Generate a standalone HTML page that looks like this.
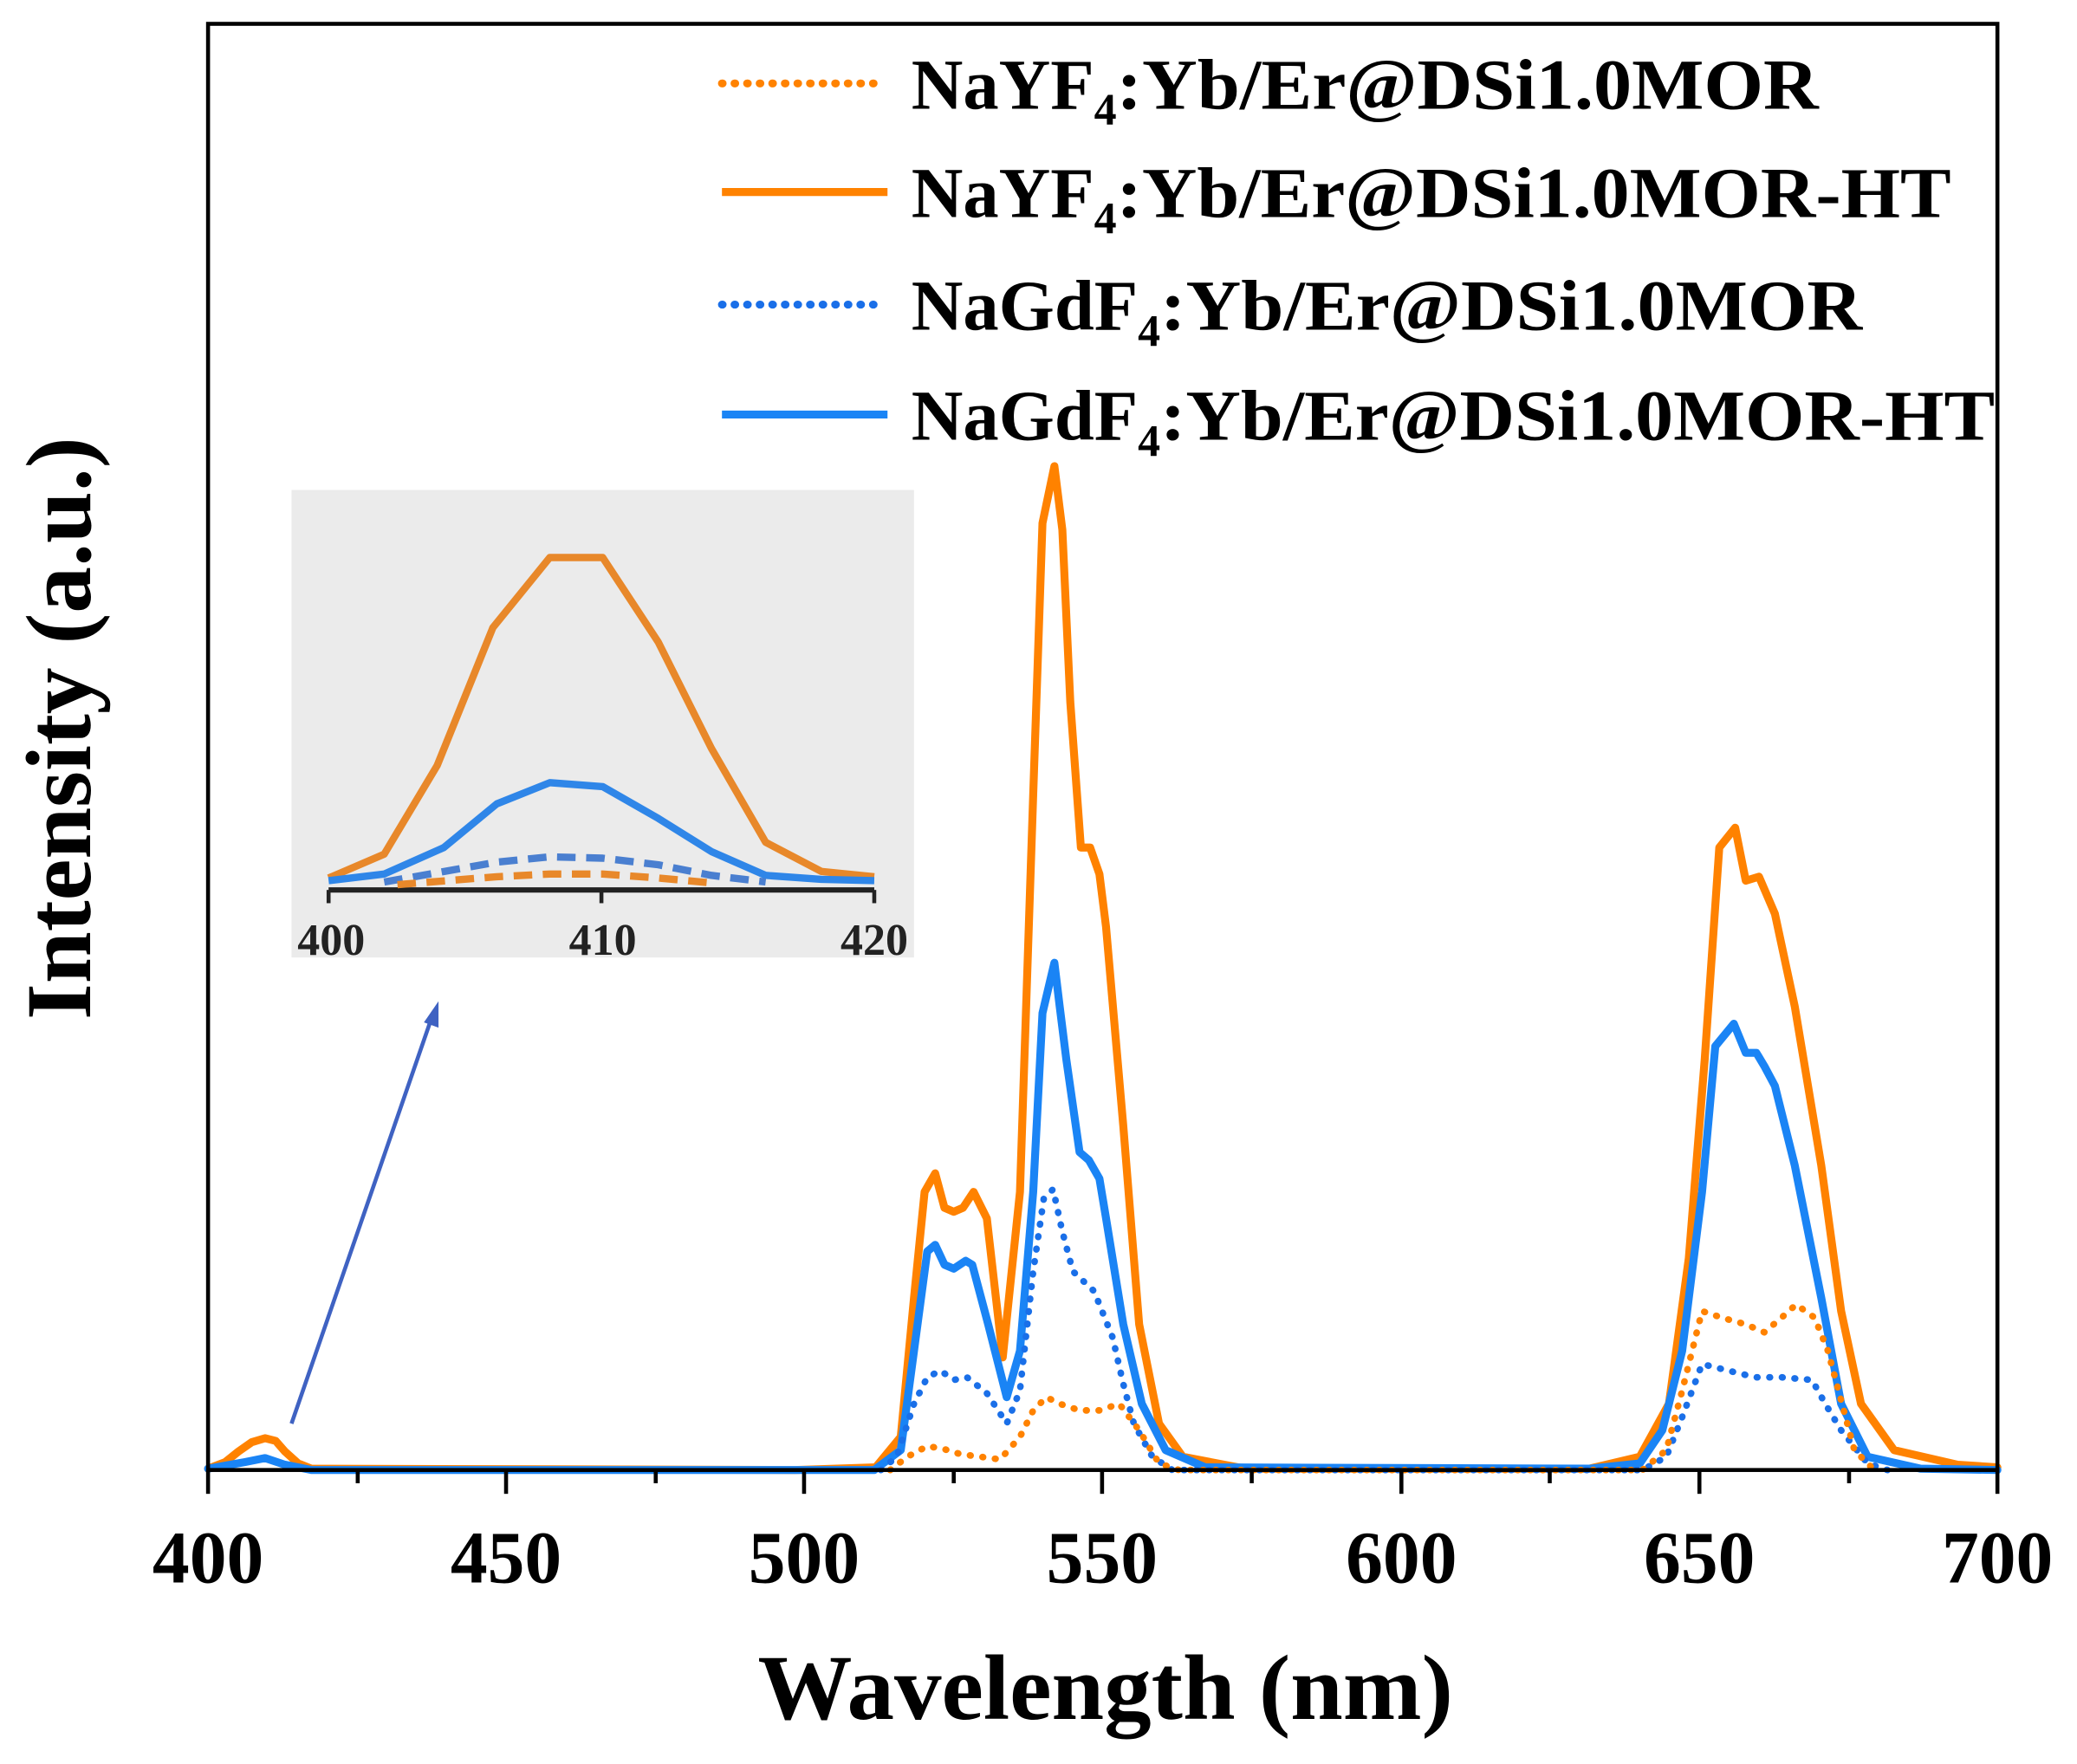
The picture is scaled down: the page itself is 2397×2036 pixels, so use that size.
<!DOCTYPE html>
<html><head><meta charset="utf-8"><style>html,body{margin:0;padding:0;background:#fff}svg{display:block}</style></head>
<body>
<svg width="2397" height="2036" viewBox="0 0 1568 1332" xmlns="http://www.w3.org/2000/svg" font-family="'Liberation Serif', serif" font-weight="bold">
<rect width="1568" height="1332" fill="#fff"/>
<!-- inset -->
<rect x="220" y="370" width="470" height="353" fill="#ebebeb"/>
<line x1="248" y1="672" x2="660" y2="672" stroke="#222" stroke-width="4"/>
<g stroke="#222" stroke-width="3"><line x1="248" y1="672" x2="248" y2="682"/><line x1="454" y1="672" x2="454" y2="682"/><line x1="660" y1="672" x2="660" y2="682"/></g>
<g font-size="34" text-anchor="middle" fill="#222"><text x="250" y="721">400</text><text x="455" y="721">410</text><text x="660" y="721">420</text></g>
<g fill="none" stroke-width="5.5" stroke-linejoin="round">
<polyline stroke="#e8882a" points="248,663 290,645 330,578 372,474 415,421 455,421 497,485 537,565 578,636 620,658 660,662"/>
<polyline stroke="#2f86e8" points="248,665 290,660 335,640 375,607 415,591 455,594 497,618 537,643 578,661 620,664 660,665"/>
<polyline stroke="#4a7fd0" stroke-dasharray="14,8" points="290,666 330,659 375,651 415,647 455,648 497,653 537,661 578,666"/>
<polyline stroke="#e8882a" stroke-dasharray="14,8" points="300,668 375,662 415,660 455,660 497,663 540,667"/>
</g>
<!-- arrow -->
<line x1="220" y1="1075" x2="326" y2="768" stroke="#3f62c2" stroke-width="3"/>
<polygon points="331,756 320,772 331,776" fill="#3f62c2"/>
<!-- series -->
<g fill="none" stroke-linejoin="round" stroke-linecap="round">
<polyline stroke="#ff8200" stroke-width="6" points="157,1109 170,1104 180,1096 190,1089 200,1086 208,1088 215,1096 225,1105 235,1109 600,1110 661,1108 680,1085 690,980 698,900 706,886 713,912 720,915 727,912 735,900 745,920 757,1025 770,900 780,600 787,395 796,352 802,400 808,530 816,640 823,640 830,660 835,700 848,850 860,1000 875,1075 893,1100 940,1109 1200,1109 1238,1100 1260,1060 1275,950 1287,800 1298,640 1310,625 1318,665 1328,662 1340,690 1355,760 1375,880 1390,990 1405,1060 1430,1095 1478,1106 1508,1108"/>
<polyline stroke="#1a84f5" stroke-width="6" points="157,1109 185,1104 200,1101 215,1106 235,1110 660,1110 680,1095 690,1020 700,945 706,940 713,955 720,958 729,952 734,955 746,1000 760,1055 770,1020 780,900 787,765 796,727 800,760 805,800 815,870 822,876 830,890 835,920 848,1000 862,1060 880,1095 910,1108 1200,1109 1238,1105 1255,1080 1270,1020 1285,900 1295,790 1309,773 1318,795 1326,795 1332,805 1340,820 1355,880 1375,980 1390,1060 1410,1100 1450,1109 1508,1110"/>
<polyline stroke="#1a6fe8" stroke-width="5" stroke-dasharray="0.5,9" points="665,1110 677,1100 690,1060 700,1040 710,1035 720,1042 730,1040 745,1052 760,1075 770,1050 780,960 788,905 795,898 802,930 810,960 826,975 840,1010 848,1045 856,1075 870,1100 885,1110 1240,1110 1258,1100 1270,1070 1285,1030 1305,1035 1325,1040 1345,1040 1368,1042 1378,1060 1390,1080 1410,1105 1425,1110"/>
<polyline stroke="#ff8200" stroke-width="5" stroke-dasharray="0.5,9" points="672,1110 685,1100 700,1092 712,1094 725,1098 740,1100 755,1102 770,1085 780,1065 790,1055 800,1060 815,1065 830,1065 845,1060 860,1080 875,1105 890,1110 1240,1110 1258,1095 1270,1050 1285,990 1300,995 1318,1000 1332,1006 1345,995 1356,985 1370,995 1380,1020 1388,1050 1400,1095 1415,1110"/>
</g>
<!-- axes -->
<rect x="157" y="18" width="1351" height="1092" fill="none" stroke="#000" stroke-width="3"/>
<g stroke="#000" stroke-width="3">
<line x1="157" y1="1110" x2="157" y2="1128"/><line x1="382" y1="1110" x2="382" y2="1128"/><line x1="607" y1="1110" x2="607" y2="1128"/><line x1="832" y1="1110" x2="832" y2="1128"/><line x1="1058" y1="1110" x2="1058" y2="1128"/><line x1="1283" y1="1110" x2="1283" y2="1128"/><line x1="1508" y1="1110" x2="1508" y2="1128"/>
<line x1="270" y1="1110" x2="270" y2="1120"/><line x1="495" y1="1110" x2="495" y2="1120"/><line x1="720" y1="1110" x2="720" y2="1120"/><line x1="945" y1="1110" x2="945" y2="1120"/><line x1="1170" y1="1110" x2="1170" y2="1120"/><line x1="1396" y1="1110" x2="1396" y2="1120"/>
</g>
<g font-size="56" text-anchor="middle" fill="#000">
<text x="157" y="1195">400</text><text x="382" y="1195">450</text><text x="607" y="1195">500</text><text x="832" y="1195">550</text><text x="1058" y="1195">600</text><text x="1283" y="1195">650</text><text x="1508" y="1195">700</text>
</g>
<text x="572" y="1298" font-size="70" textLength="525" lengthAdjust="spacingAndGlyphs">Wavelength (nm)</text>
<text transform="translate(68,770) rotate(-90)" font-size="70" textLength="440" lengthAdjust="spacingAndGlyphs">Intensity (a.u.)</text>
<!-- legend -->
<g fill="none" stroke-width="6">
<line x1="545" y1="63" x2="668" y2="63" stroke="#ff8200" stroke-dasharray="0.5,9" stroke-linecap="round"/>
<line x1="545" y1="145" x2="670" y2="145" stroke="#ff8200"/>
<line x1="545" y1="230" x2="668" y2="230" stroke="#1a6fe8" stroke-dasharray="0.5,9" stroke-linecap="round"/>
<line x1="545" y1="313" x2="670" y2="313" stroke="#1a84f5"/>
</g>
<g font-size="54" fill="#000">
<text x="688" y="82">NaYF<tspan font-size="34" dy="12">4</tspan><tspan dy="-12" textLength="530" lengthAdjust="spacingAndGlyphs">:Yb/Er@DSi1.0MOR</tspan></text>
<text x="688" y="164">NaYF<tspan font-size="34" dy="12">4</tspan><tspan dy="-12" textLength="630" lengthAdjust="spacingAndGlyphs">:Yb/Er@DSi1.0MOR-HT</tspan></text>
<text x="688" y="249">NaGdF<tspan font-size="34" dy="12">4</tspan><tspan dy="-12" textLength="530" lengthAdjust="spacingAndGlyphs">:Yb/Er@DSi1.0MOR</tspan></text>
<text x="688" y="332">NaGdF<tspan font-size="34" dy="12">4</tspan><tspan dy="-12" textLength="630" lengthAdjust="spacingAndGlyphs">:Yb/Er@DSi1.0MOR-HT</tspan></text>
</g>
</svg>
</body></html>
